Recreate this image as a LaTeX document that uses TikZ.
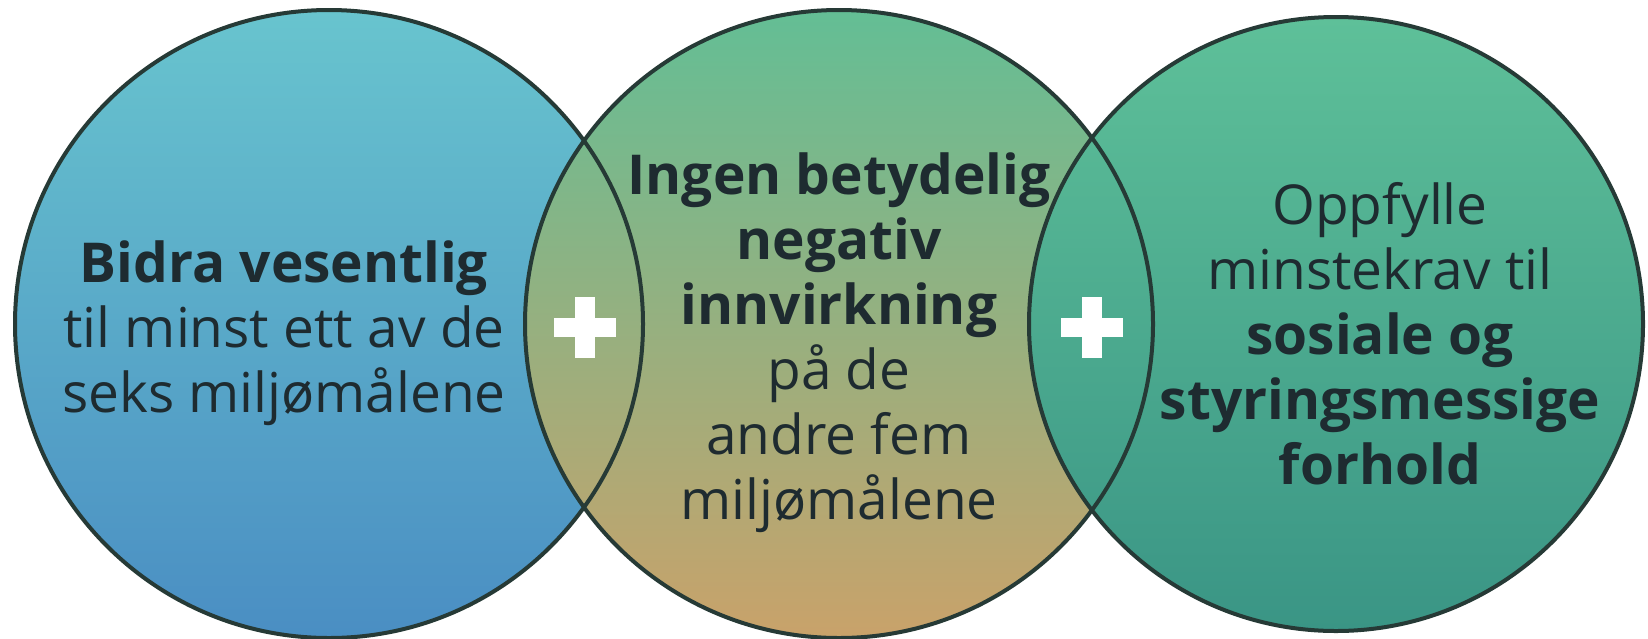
\documentclass[tikz,border=0pt]{standalone}
\usepackage{fontspec}
\setmainfont{Open Sans}
\usetikzlibrary{positioning}
\definecolor{rim}{HTML}{263A36}
\definecolor{ink}{HTML}{1E2B30}
\definecolor{blueTop}{HTML}{68C4CE}
\definecolor{blueBot}{HTML}{4A8EC3}
\definecolor{midTop}{HTML}{63BE95}
\definecolor{midBot}{HTML}{C9A26A}
\definecolor{tealTop}{HTML}{5EC099}
\definecolor{tealBot}{HTML}{3A9585}
\tikzset{
    %Define style for the filled discs
    disc/.style={
           circle,
           inner sep=0pt,
           outer sep=0pt,
           minimum size=#1},
    %Define style for the outlines
    ring/.style={
           draw=rim,
           line width=4pt},
    %Define style for the texts (anchored at the last baseline)
    goal/.style={
           align=center,
           anchor=base,
           text=ink,
           font=\fontsize{55}{65}\selectfont}
}
\begin{document}
\begin{tikzpicture}[x=1pt,y=-1pt]
\useasboundingbox[fill=white] (0,0) rectangle (1648,638);
% discs, left to right
\node[disc=628pt, top color=blueTop, bottom color=blueBot](C1) at (329,324){};
\node[disc=628pt, top color=midTop, bottom color=midBot](C2) at (839,324){};
\node[disc=614pt, top color=tealTop, bottom color=tealBot](C3) at (1336,324){};
\draw[ring] (C1.center) circle[radius=314];
\draw[ring] (C2.center) circle[radius=314];
\draw[ring] (C3.center) circle[radius=307];
% plus signs in the overlaps
\foreach \px in {585,1092}{
    \fill[white] (\px-31,318) rectangle (\px+31,337);
    \fill[white] (\px-10,297) rectangle (\px+10,358);
}
\node[goal](T1) at (284,412){\textbf{Bidra vesentlig}\\til minst ett av de\\seks miljømålene};
\node[goal](T2) at (839,519){\textbf{Ingen betydelig}\\\textbf{negativ}\\\textbf{innvirkning}\\på de\\andre fem\\miljømålene};
\node[goal](T3) at (1380,484){Oppfylle\\minstekrav til\\\textbf{sosiale og}\\\textbf{styringsmessige}\\\textbf{forhold}};
\end{tikzpicture}
\end{document}
